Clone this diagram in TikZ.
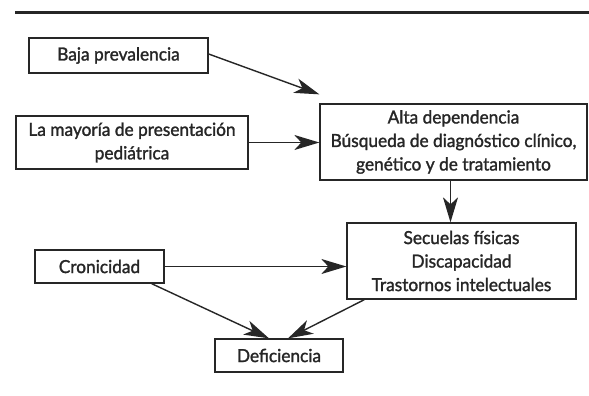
\documentclass[tikz,border=0pt]{standalone}
\usepackage{fontspec}
\setmainfont{Lato}[FakeStretch=0.96,FakeBold=1.5]
\usetikzlibrary{arrows.meta}
\definecolor{ink}{HTML}{262626}
\begin{document}
\begin{tikzpicture}[x=1pt,y=-1pt,
  box/.style={draw=ink,line width=1.3pt,inner sep=0pt,align=center,text=ink,
    font=\fontsize{18}{23.5}\selectfont},
  conn/.style={draw=ink,line width=1.4pt,-{Stealth[length=25pt,width=15pt,inset=7pt]}}]
\useasboundingbox (0,0) rectangle (589,396);
\fill[white] (0,0) rectangle (589,396);
\draw[ink,line width=3pt] (15,13) -- (589,13);
\node[box,minimum width=179pt,minimum height=35pt] (baja) at (118.5,55.5) {Baja prevalencia};
\node[box,minimum width=232pt,minimum height=53pt] (mayoria) at (132,142.5) {La mayoría de presentación\\pediátrica};
\node[box,minimum width=267pt,minimum height=76pt] (alta) at (453.5,142) {Alta dependencia\\Búsqueda de diagnóstico clínico,\\genético y de tratamiento};
\node[box,minimum width=229pt,minimum height=76pt] (secuelas) at (461.5,261) {Secuelas físicas\\Discapacidad\\Trastornos intelectuales};
\node[box,minimum width=129pt,minimum height=33pt] (cron) at (99.5,266.5) {Cronicidad};
\node[box,minimum width=128pt,minimum height=33pt] (defi) at (279,355.5) {Deficiencia};
\draw[conn] ([yshift=1.5pt]baja.east) -- ([yshift=9pt]alta.north west);
\draw[conn] (mayoria.east) -- (mayoria.east -| alta.west);
\draw[conn] ([xshift=-3pt]alta.south) -- ([xshift=-3pt]alta.south |- secuelas.north);
\draw[conn] (cron.east) -- (cron.east -| secuelas.west);
\draw[conn] ([xshift=-13pt]cron.south east) -- ([xshift=-10pt]defi.north);
\draw[conn] ([xshift=18pt]secuelas.south west) -- ([xshift=9pt]defi.north);
\end{tikzpicture}
\end{document}
